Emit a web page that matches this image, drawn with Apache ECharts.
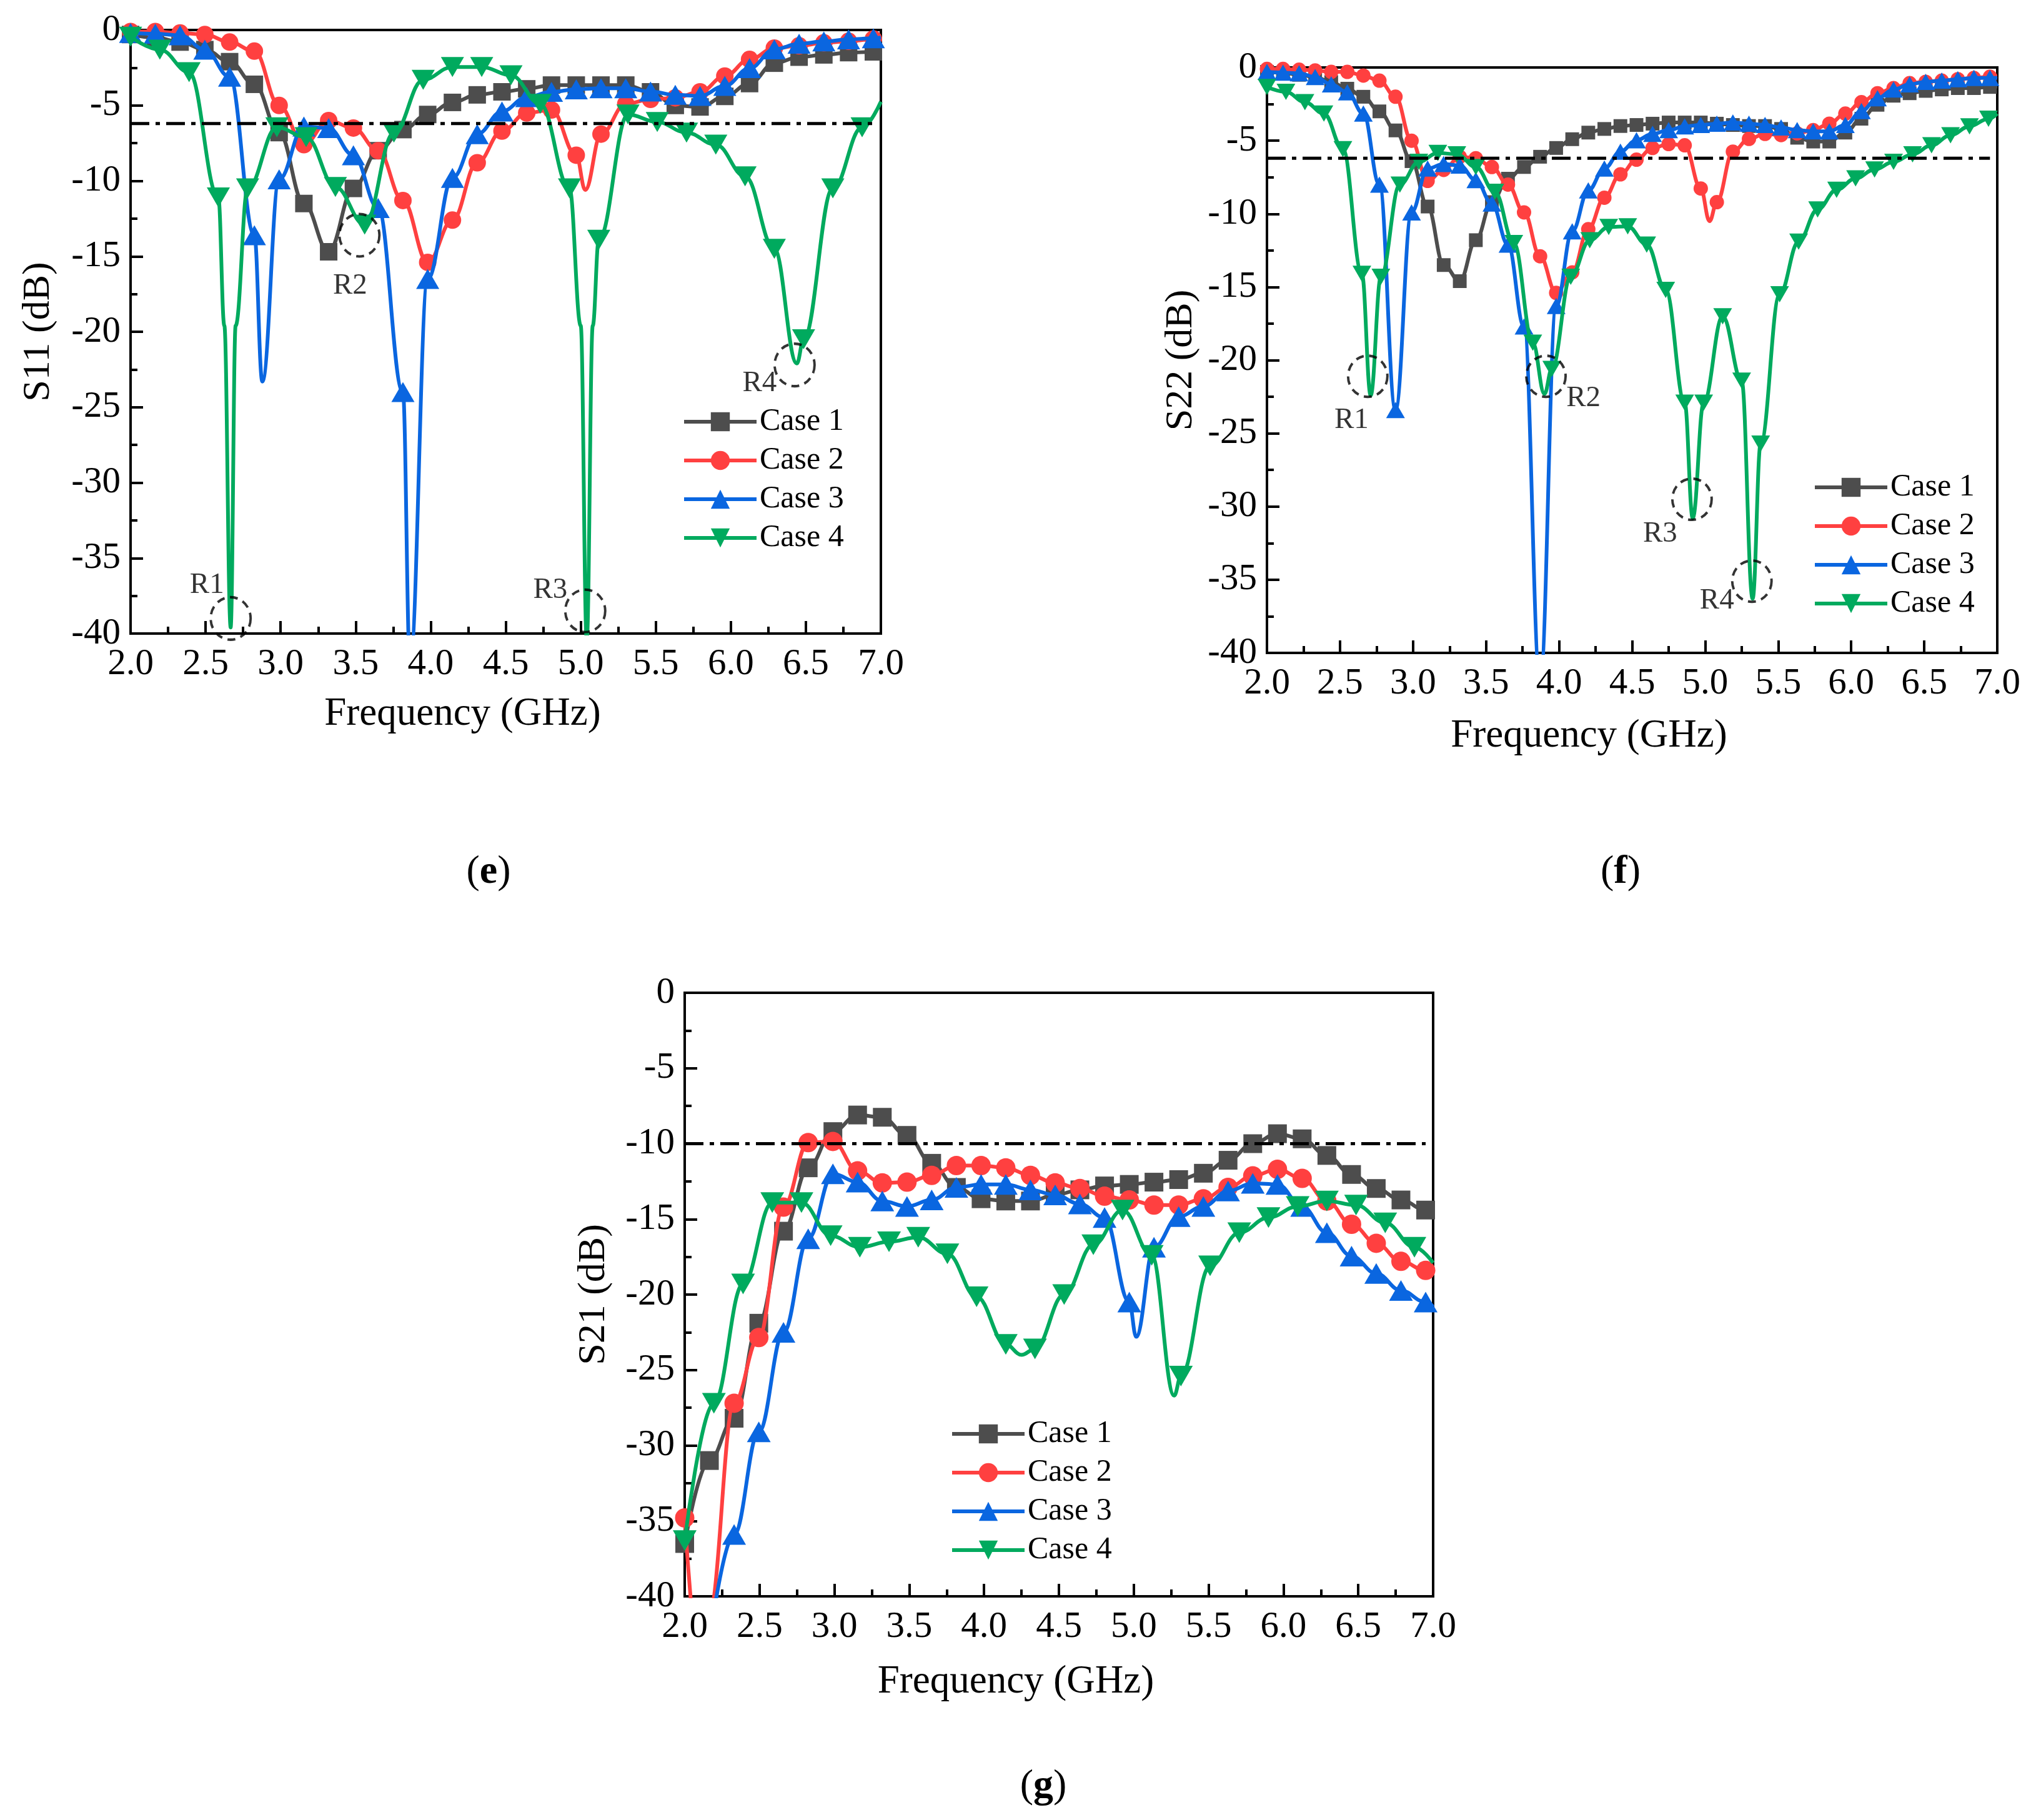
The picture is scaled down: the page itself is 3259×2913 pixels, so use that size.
<!DOCTYPE html>
<html>
<head>
<meta charset="utf-8">
<script src="https://cdn.jsdelivr.net/npm/echarts/dist/echarts.min.js"></script>
<style>
  html, body { margin: 0; padding: 0; background: #fff; }
  #chart { width: 3259px; height: 2913px; }
</style>
</head>
<body>
<div id="chart"></div>
<script>
// marker frequency grids (GHz)
const fA = [2.000, 2.165, 2.330, 2.495, 2.660, 2.825, 2.990, 3.155, 3.320, 3.485, 3.650, 3.815, 3.980, 4.145, 4.310, 4.475,
            4.640, 4.805, 4.970, 5.135, 5.300, 5.465, 5.630, 5.795, 5.960, 6.125, 6.290, 6.455, 6.620, 6.785, 6.950];
const fB = [2.000, 2.195, 2.390, 2.585, 2.780, 2.975, 3.170, 3.365, 3.560, 3.755, 3.950, 4.145, 4.340, 4.535, 4.730, 4.925,
            5.120, 5.315, 5.510, 5.705, 5.900, 6.095, 6.290, 6.485, 6.680, 6.875];
const fC = [2.00, 2.11, 2.22, 2.33, 2.44, 2.55, 2.66, 2.77, 2.88, 2.99, 3.10, 3.21, 3.32, 3.43, 3.54, 3.65, 3.76, 3.87,
            3.98, 4.09, 4.20, 4.31, 4.42, 4.53, 4.64, 4.75, 4.86, 4.97, 5.08, 5.19, 5.30, 5.41, 5.52, 5.63, 5.74, 5.85,
            5.96, 6.07, 6.18, 6.29, 6.40, 6.51, 6.62, 6.73, 6.84, 6.95];
const fD = [2.00, 2.13, 2.26, 2.39, 2.52, 2.65, 2.78, 2.91, 3.04, 3.17, 3.30, 3.43, 3.56, 3.69, 3.82, 3.95, 4.08, 4.21,
            4.34, 4.47, 4.60, 4.73, 4.86, 4.99, 5.12, 5.25, 5.38, 5.51, 5.64, 5.77, 5.90, 6.03, 6.16, 6.29, 6.42, 6.55,
            6.68, 6.81, 6.94];

// (e) S11, dB
const e1 = [-0.3, -0.5, -0.8, -1.3, -2.1, -3.6, -6.8, -11.5, -14.7, -10.5, -8.0, -6.6, -5.6, -4.8, -4.3, -4.1,
            -3.9, -3.65, -3.65, -3.65, -3.65, -4.1, -5.0, -5.1, -4.4, -3.55, -2.2, -1.8, -1.65, -1.5, -1.45];
const e2 = [-0.1, -0.1, -0.2, -0.3, -0.8, -1.4, -5.0, -7.6, -6.0, -6.5, -8.0, -11.3, -15.4, -12.6, -8.8, -6.7,
            -5.5, -5.3, -8.3, -6.9, -4.9, -4.6, -4.5, -4.1, -3.05, -1.95, -1.2, -1.05, -0.85, -0.75, -0.6];
const e3 = [-0.2, -0.25, -0.35, -1.3, -3.1, -13.6, -9.9, -6.4, -6.5, -8.3, -11.8, -24.0, -16.5, -9.8, -6.9, -5.4,
            -4.45, -4.1, -3.93, -3.86, -3.86, -4.08, -4.3, -4.37, -3.71, -2.53, -1.28, -0.91, -0.76, -0.62, -0.55];
const e4 = [-0.45, -1.3, -2.8, -11.1, -10.5, -6.45, -7.1, -10.4, -12.9, -6.8, -3.3, -2.45, -2.45, -3.0, -4.9, -10.5,
            -13.9, -5.6, -6.1, -6.8, -7.6, -9.7, -14.5, -20.5, -10.5, -6.45];
// curve points between markers (dips, ends), drawn without a symbol
const e1Extra = [[7.0, -1.4]];
const e2Extra = [[5.03, -10.6], [7.0, -0.55]];
const e3Extra = [[2.878, -23.3], [3.862, -42.0], [7.0, -0.5]];
const e4Extra = [[2.625, -19.6], [2.667, -39.6], [2.70, -19.6], [5.0, -19.6], [5.04, -40.5], [5.08, -19.6],
                 [6.44, -22.1], [7.0, -4.75]];

// (f) S22, dB
const f1 = [-0.3, -0.35, -0.5, -0.65, -1.0, -1.45, -2.0, -3.0, -4.3, -6.4, -9.5, -13.5, -14.6, -11.8, -9.2, -7.6,
            -6.8, -6.1, -5.5, -4.9, -4.45, -4.2, -4.0, -3.93, -3.84, -3.76, -3.76, -3.76, -3.84, -3.93, -4.0, -4.0,
            -4.2, -4.8, -5.06, -5.06, -4.45, -3.5, -2.55, -1.93, -1.76, -1.6, -1.5, -1.41, -1.41, -1.33];
const f2 = [-0.1, -0.1, -0.15, -0.2, -0.3, -0.3, -0.55, -0.9, -2.0, -5.0, -7.75, -7.0, -6.1, -6.2, -6.8, -8.0,
            -9.9, -12.9, -15.4, -14.0, -11.05, -8.9, -7.3, -6.3, -5.5, -5.23, -5.32, -8.27, -9.2, -5.75, -4.88, -4.54,
            -4.62, -4.5, -4.28, -3.84, -3.15, -2.37, -1.76, -1.41, -1.07, -0.98, -0.9, -0.8, -0.72, -0.63];
const f3 = [-0.3, -0.35, -0.4, -0.65, -1.15, -1.7, -3.15, -8.0, -23.4, -9.9, -6.9, -6.6, -6.7, -7.7, -9.3, -12.1,
            -17.7, -42.0, -16.3, -11.2, -8.4, -6.9, -5.75, -4.97, -4.54, -4.28, -4.02, -3.93, -3.84, -3.76, -3.84, -3.93,
            -4.1, -4.28, -4.36, -4.36, -3.93, -2.98, -2.1, -1.5, -1.15, -0.98, -0.9, -0.8, -0.72, -0.72];
const f4 = [-1.33, -1.67, -2.37, -3.15, -5.58, -14.1, -14.3, -8.0, -6.45, -5.84, -5.93, -6.8, -8.5, -12.0, -18.8,
            -20.6, -14.3, -11.8, -10.9, -10.85, -12.1, -15.2, -22.9, -22.9, -17.0, -21.4, -25.7, -15.5, -11.9, -9.7,
            -8.36, -7.58, -6.97, -6.45, -5.93, -5.32, -4.63, -4.02, -3.5];
const f1Extra = [[7.0, -1.3]];
const f2Extra = [[5.03, -10.5], [7.0, -0.6]];
const f3Extra = [[7.0, -0.7]];
const f4Extra = [[2.71, -22.4], [3.90, -22.3], [4.915, -30.8], [5.325, -36.3], [7.0, -3.15]];

// (g) S21, dB
const g1 = [-36.5, -31.0, -28.2, -21.9, -15.8, -11.6, -9.2, -8.1, -8.25, -9.45, -11.3, -12.9, -13.65, -13.8, -13.8,
            -13.4, -13.06, -12.8, -12.7, -12.55, -12.38, -11.96, -11.1, -10.0, -9.34, -9.68, -10.78, -12.04, -12.97,
            -13.73, -14.4];
const g2 = [-34.8, -41.0, -27.2, -22.85, -14.2, -9.93, -9.85, -11.8, -12.6, -12.55, -12.1, -11.45, -11.45, -11.6,
            -12.1, -12.6, -12.97, -13.48, -13.73, -14.07, -14.07, -13.65, -12.9, -12.13, -11.7, -12.3, -13.8, -15.34,
            -16.6, -17.8, -18.4];
const g3 = [null, -43.0, -35.9, -29.1, -22.5, -16.3, -12.0, -12.55, -13.8, -14.16, -13.73, -12.9, -12.7, -12.7,
            -13.06, -13.4, -14.0, -14.9, -20.5, -16.86, -14.83, -14.16, -13.14, -12.63, -12.7, -14.16, -15.9, -17.45,
            -18.6, -19.73, -20.5];
const g4 = [-36.3, -27.2, -19.3, -13.9, -13.9, -16.1, -16.86, -16.5, -16.2, -17.3, -20.15, -23.3, -23.6, -20.0,
            -16.7, -14.4, -17.4, -25.4, -18.1, -15.9, -14.9, -14.16, -13.8, -14.07, -15.25, -16.86];
const g1Extra = [[7.0, -14.5]];
const g2Extra = [[2.12, -46.0], [7.0, -18.5]];
const g3Extra = [[5.016, -22.8], [7.0, -20.8]];
const g4Extra = [[4.25, -24.0], [5.27, -26.7], [7.0, -17.9]];

// reference levels (dB) and their extent (GHz)
const threshE = -6.2, threshF = -6.2, threshG = -10;
const threshSpan = [2.0, 6.95];

// resonance marks R1..R4
const rNames = ['R1', 'R2', 'R3', 'R4'];
const rE = [[2.667, -39.0], [3.525, -13.6], [5.03, -38.5], [6.425, -22.2]];
const rF = [[2.69, -21.1], [3.91, -21.1], [4.91, -29.5], [5.32, -35.1]];

const caseNames = ['Case 1', 'Case 2', 'Case 3', 'Case 4'];
const xRange = [2.0, 7.0];
const yRange = [-40, 0];

const FONT = 'Liberation Serif';
const colors = ['#4d4d4d', '#ff4040', '#0a66e0', '#00aa5e'];
const symbols = ['rect', 'circle', 'triangle', 'triangle'];
const rotates = [0, 0, 0, 180];

function pts(freq, vals, extra) {
    let out = [];
    freq.forEach((f, i) => {
        if (vals[i] !== null) out.push({value: [f, vals[i]]});
    });
    extra.forEach(p => out.push({value: p, symbol: 'none'}));
    out.sort((a, b) => a.value[0] - b.value[0]);
    return out;
}

const panels = [
    {
        grid: {left: 209, top: 48, width: 1201, height: 966},
        yName: 'S11 (dB)', xGap: 98, yGap: 116,
        data: [[fA, e1, e1Extra], [fA, e2, e2Extra], [fA, e3, e3Extra], [fB, e4, e4Extra]],
        sizes: [[28, 28], [28, 28], [37, 32], [37, 32]],
        thresh: threshE, marks: rE,
        offsets: [[-38, -53], [-15, 81], [-56, -33], [-56, 30]],
        ring: [64, 68],
        legend: {left: 1087, top: 645},
        tag: 'e', tagPos: [782, 1396]
    },
    {
        grid: {left: 2028, top: 108, width: 1169, height: 937},
        yName: 'S22 (dB)', xGap: 102, yGap: 106,
        data: [[fC, f1, f1Extra], [fC, f2, f2Extra], [fC, f3, f3Extra], [fD, f4, f4Extra]],
        sizes: [[22, 22], [23, 23], [30, 26], [30, 26]],
        thresh: threshF, marks: rF,
        offsets: [[-26, 70], [60, 35], [-51, 56], [-56, 31]],
        ring: [63, 66],
        legend: {left: 2897, top: 750},
        tag: 'f', tagPos: [2594, 1396]
    },
    {
        grid: {left: 1096, top: 1589, width: 1198, height: 966},
        yName: 'S21 (dB)', xGap: 106, yGap: 114,
        data: [[fA, g1, g1Extra], [fA, g2, g2Extra], [fA, g3, g3Extra], [fB, g4, g4Extra]],
        sizes: [[30, 30], [31, 31], [38, 33], [38, 33]],
        thresh: threshG, marks: null,
        legend: {left: 1516, top: 2265},
        tag: 'g', tagPos: [1670, 2859]
    }
];

const black = '#000';
let option = {
    animation: false,
    backgroundColor: '#fff',
    grid: [], xAxis: [], yAxis: [], legend: [], series: [], graphic: []
};

panels.forEach((p, k) => {
    option.grid.push(Object.assign({show: true, borderColor: black, borderWidth: 4, backgroundColor: 'transparent'}, p.grid));

    option.xAxis.push({
        type: 'value', gridIndex: k, min: xRange[0], max: xRange[1], interval: 0.5,
        name: 'Frequency (GHz)', nameLocation: 'middle', nameGap: p.xGap,
        // title sits a little left of the plot centre in the original
        nameTextStyle: {fontFamily: FONT, fontSize: 63, color: black, padding: [0, 138, 0, 0]},
        axisLine: {onZero: false, lineStyle: {color: black, width: 4}},
        axisTick: {inside: true, length: 20, lineStyle: {color: black, width: 4}},
        minorTick: {show: true, splitNumber: 2, length: 11, lineStyle: {color: black, width: 4}},
        axisLabel: {fontFamily: FONT, fontSize: 59, color: black, margin: 20, formatter: v => v.toFixed(1)},
        splitLine: {show: false}
    });

    option.yAxis.push({
        type: 'value', gridIndex: k, min: yRange[0], max: yRange[1], interval: 5,
        name: p.yName, nameLocation: 'middle', nameGap: p.yGap,
        nameTextStyle: {fontFamily: FONT, fontSize: 62, color: black},
        axisLine: {onZero: false, lineStyle: {color: black, width: 4}},
        axisTick: {inside: true, length: 20, lineStyle: {color: black, width: 4}},
        minorTick: {show: true, splitNumber: 2, length: 11, lineStyle: {color: black, width: 4}},
        axisLabel: {fontFamily: FONT, fontSize: 59, color: black, margin: 16},
        splitLine: {show: false}
    });

    // one line per case, markers only on the marker grid
    p.data.forEach((d, i) => {
        option.series.push({
            name: caseNames[i], type: 'line', xAxisIndex: k, yAxisIndex: k,
            data: pts(d[0], d[1], d[2]),
            smooth: 0.4, smoothMonotone: 'x',
            symbol: symbols[i], symbolRotate: rotates[i], symbolSize: p.sizes[i],
            showAllSymbol: true,
            lineStyle: {color: colors[i], width: 6},
            itemStyle: {color: colors[i]},
            emphasis: {disabled: true},
            z: 2 + i
        });
    });

    // dash-dot reference level
    option.series.push({
        name: 'ref' + k, type: 'line', xAxisIndex: k, yAxisIndex: k,
        data: threshSpan.map(x => [x, p.thresh]),
        symbol: 'none',
        lineStyle: {color: black, width: 5, type: [30, 10, 7, 10]},
        emphasis: {disabled: true}, z: 8
    });

    if (p.marks) {
        option.series.push({
            name: 'marks' + k, type: 'scatter', xAxisIndex: k, yAxisIndex: k,
            data: p.marks.map((m, j) => ({
                value: m, name: rNames[j],
                label: {offset: p.offsets[j]}
            })),
            symbol: 'circle', symbolSize: p.ring,
            itemStyle: {color: 'rgba(0,0,0,0)', borderColor: black, borderWidth: 4, borderType: [13, 9]},
            label: {
                show: true, position: 'inside', formatter: q => q.name,
                fontFamily: FONT, fontSize: 47, color: black
            },
            emphasis: {disabled: true}, silent: true, z: 9
        });
    }

    option.legend.push({
        data: caseNames, orient: 'vertical',
        left: p.legend.left, top: p.legend.top,
        itemWidth: 116, itemHeight: 38, itemGap: 12,
        lineStyle: {width: 6},
        textStyle: {fontFamily: FONT, fontSize: 50, color: black},
        selectedMode: false
    });

    option.graphic.push({
        type: 'text', x: p.tagPos[0], y: p.tagPos[1],
        style: {
            text: '{n|(}{b|' + p.tag + '}{n|)}',
            textAlign: 'center', textVerticalAlign: 'middle', verticalAlign: 'middle',
            rich: {
                n: {fontFamily: FONT, fontSize: 64, color: black},
                b: {fontFamily: FONT, fontSize: 64, fontWeight: 'bold', color: black}
            }
        }
    });
});

let myChart = echarts.init(document.getElementById('chart'));
myChart.setOption(option);
</script>
</body>
</html>
